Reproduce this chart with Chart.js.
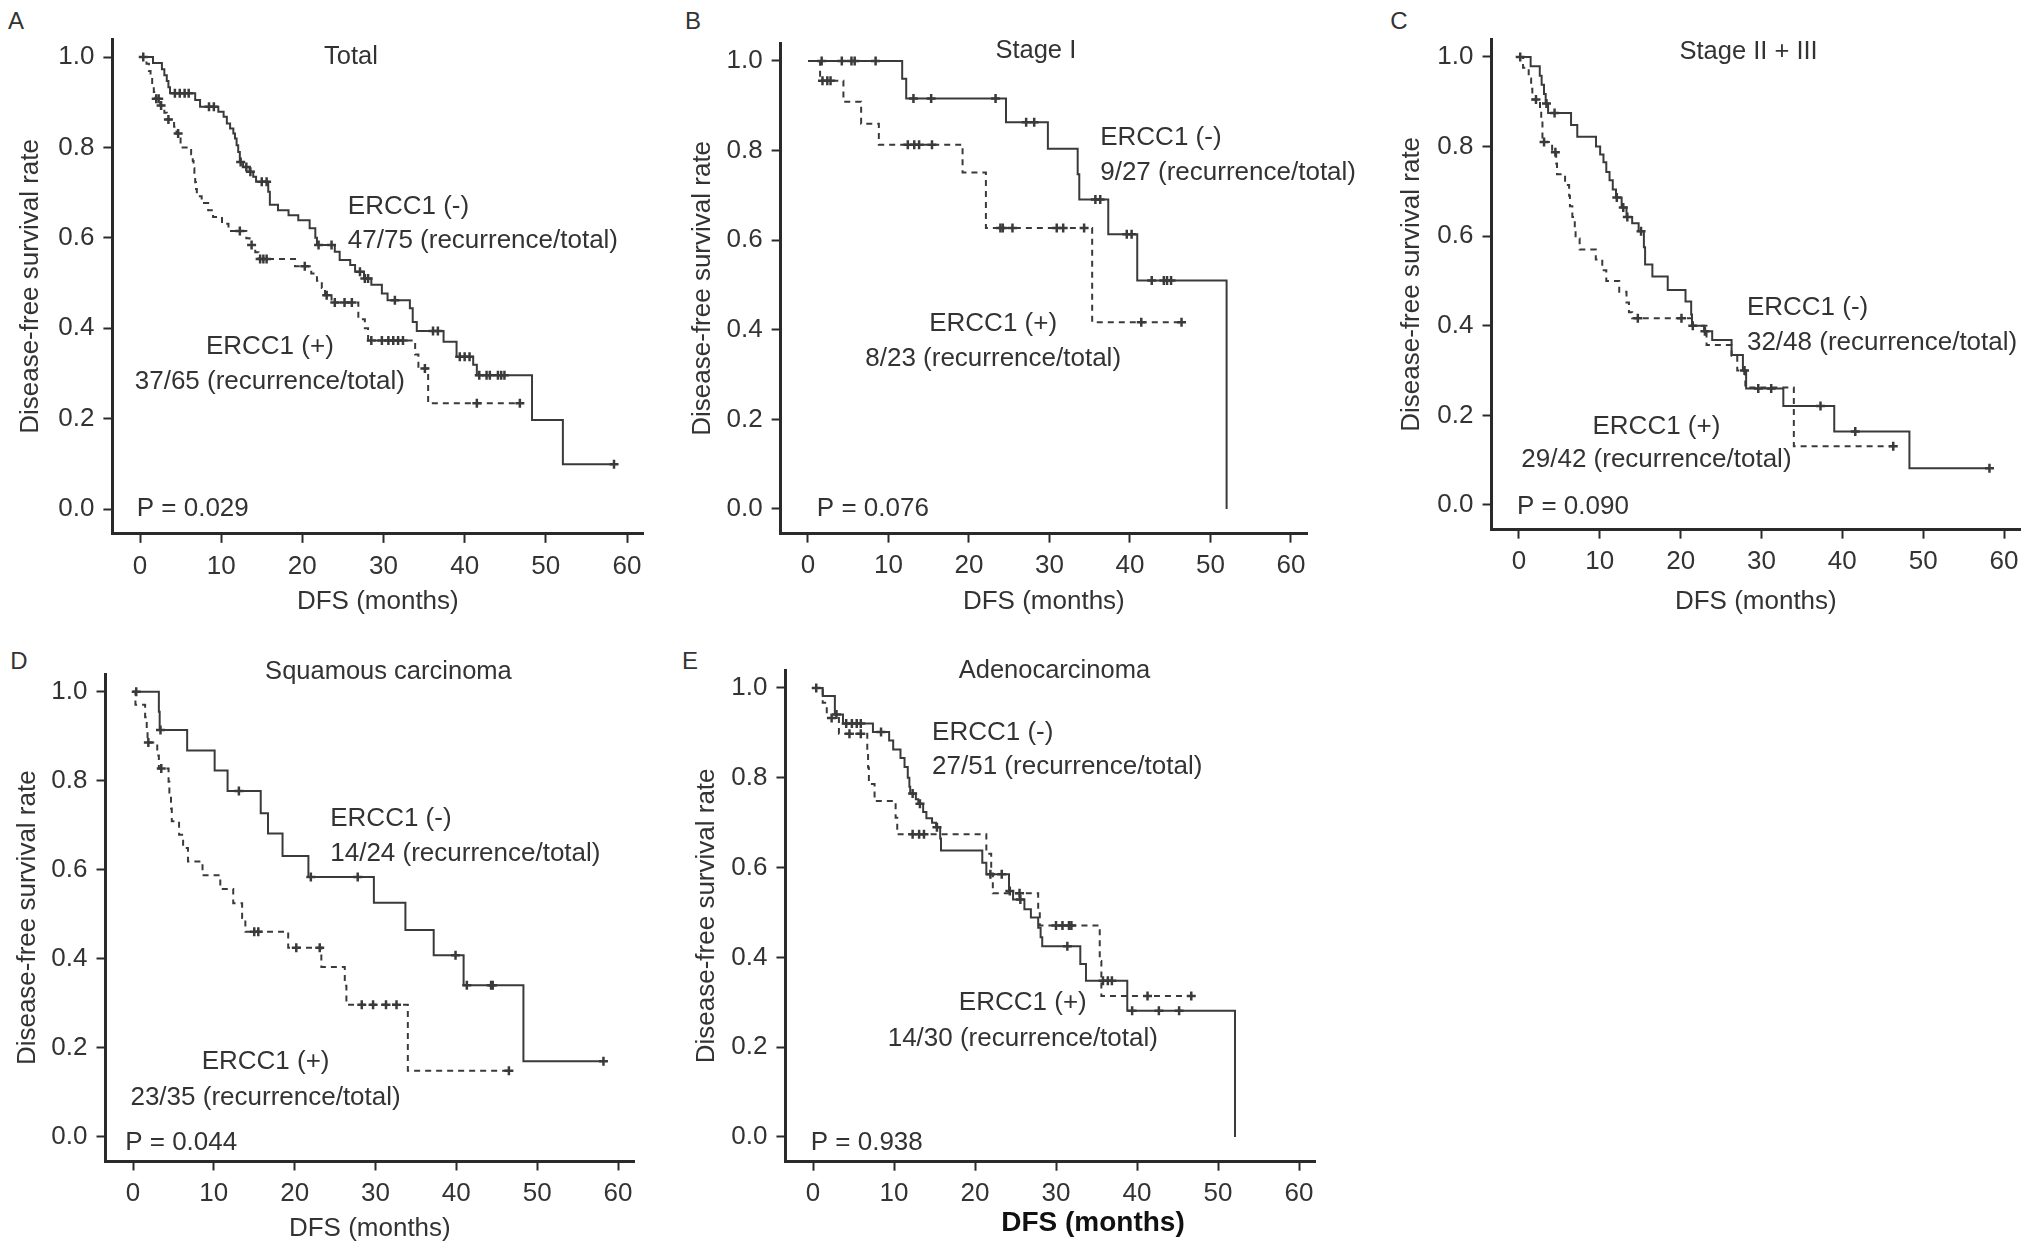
<!DOCTYPE html>
<html><head><meta charset="utf-8">
<script src="https://cdn.jsdelivr.net/npm/chart.js@4.4.1/dist/chart.umd.min.js"></script>
<style>
html,body{margin:0;padding:0;background:#fff;}
body{width:2031px;height:1257px;position:relative;overflow:hidden;font-family:"Liberation Sans",Arial,sans-serif;}
canvas{position:absolute;}
.letter{position:absolute;font-size:24px;color:#333;transform:translate(-50%,-50%);line-height:1;}
</style></head><body>
<script>
// ---------------- DATA ----------------
const X_TICKS = [0, 10, 20, 30, 40, 50, 60];
const Y_TICKS = [0, 0.2, 0.4, 0.6, 0.8, 1.0];
const PANEL_IDS = ['A', 'B', 'C', 'D', 'E'];
const PANEL_TITLES = ['Total', 'Stage I', 'Stage II + III', 'Squamous carcinoma', 'Adenocarcinoma'];
const NEG_COUNTS = ['47/75 (recurrence/total)', '9/27 (recurrence/total)', '32/48 (recurrence/total)', '14/24 (recurrence/total)', '27/51 (recurrence/total)'];
const POS_COUNTS = ['37/65 (recurrence/total)', '8/23 (recurrence/total)', '29/42 (recurrence/total)', '23/35 (recurrence/total)', '14/30 (recurrence/total)'];
const P_VALUES = ['P = 0.029', 'P = 0.076', 'P = 0.090', 'P = 0.044', 'P = 0.938'];

// Panel A - Total
const A_neg_time = [0, 1.6, 2.7, 3.0, 3.3, 3.5, 3.7, 6.8, 7.4, 9.65, 10.3, 10.7, 11.1, 11.5, 11.7, 11.9, 12.1, 12.3, 12.7, 13.5, 13.95, 14.3, 15.8, 16.0, 17.0, 18.3, 19.5, 20.9, 21.6, 21.8, 24.0, 24.6, 25.9, 26.5, 27.6, 28.5, 29.8, 30.5, 33.25, 33.6, 34.1, 37.4, 39.0, 41.05, 41.5, 48.3, 52.1];
const A_neg_surv = [1, 0.987, 0.973, 0.96, 0.947, 0.933, 0.92, 0.905, 0.89, 0.879, 0.868, 0.853, 0.842, 0.831, 0.82, 0.805, 0.79, 0.768, 0.757, 0.746, 0.735, 0.724, 0.702, 0.673, 0.661, 0.65, 0.639, 0.621, 0.60, 0.584, 0.569, 0.551, 0.54, 0.525, 0.51, 0.496, 0.477, 0.462, 0.444, 0.414, 0.394, 0.37, 0.337, 0.319, 0.296, 0.197, 0.099];
const A_neg_cens = [0.4, 4.3, 4.9, 5.5, 6.0, 8.5, 9.1, 12.4, 13.1, 13.6, 15.0, 15.6, 22.0, 23.6, 27.1, 27.7, 28.1, 31.4, 36.1, 36.7, 39.4, 40.0, 40.6, 41.8, 42.7, 43.1, 44.1, 44.5, 44.9, 58.4];
const A_pos_time = [0, 0.8, 1.1, 1.3, 1.5, 1.7, 1.9, 2.5, 3.0, 3.3, 4.2, 4.5, 5.0, 6.3, 6.5, 6.6, 6.7, 6.8, 6.9, 7.0, 7.6, 8.4, 9.0, 10.1, 10.9, 13.1, 13.5, 14.2, 14.6, 19.1, 21.1, 21.8, 22.4, 22.8, 23.6, 26.9, 27.7, 28.1, 33.9, 34.3, 35.5];
const A_pos_surv = [1, 0.985, 0.969, 0.954, 0.938, 0.923, 0.908, 0.893, 0.877, 0.862, 0.846, 0.831, 0.80, 0.785, 0.77, 0.754, 0.738, 0.723, 0.708, 0.692, 0.677, 0.661, 0.646, 0.631, 0.615, 0.599, 0.584, 0.568, 0.553, 0.537, 0.521, 0.505, 0.489, 0.473, 0.457, 0.42, 0.40, 0.373, 0.342, 0.311, 0.234];
const A_pos_cens = [2.0, 2.3, 2.6, 3.5, 4.7, 12.3, 13.75, 14.8, 15.2, 15.6, 20.3, 23.0, 24.0, 25.2, 26.1, 28.5, 29.8, 30.6, 31.2, 31.8, 32.4, 35.1, 41.5, 46.8];

// Panel B - Stage I
const B_neg_time = [0, 11.7, 12.2, 24.6, 29.8, 33.5, 33.7, 37.3, 40.9, 52.0];
const B_neg_surv = [1, 0.96, 0.916, 0.863, 0.804, 0.747, 0.691, 0.613, 0.51, 0.0];
const B_neg_cens = [1.7, 4.2, 5.4, 5.8, 8.4, 13.1, 15.3, 23.3, 27.1, 28.1, 35.7, 36.3, 39.6, 40.2, 42.7, 44.2, 44.6, 45.1];
const B_pos_time = [0, 1.5, 4.4, 6.6, 8.8, 19.2, 22.1, 35.3];
const B_pos_surv = [1, 0.956, 0.909, 0.86, 0.813, 0.751, 0.627, 0.417];
const B_pos_cens = [1.8, 2.4, 2.8, 12.4, 13.2, 13.8, 15.4, 23.9, 24.2, 25.4, 30.9, 31.7, 34.3, 41.4, 46.4];

// Panel C - Stage II + III
const C_neg_time = [0, 1.44, 2.57, 2.8, 3.09, 3.3, 3.6, 6.44, 7.21, 9.53, 10.04, 10.45, 10.8, 11.2, 11.6, 12.0, 12.7, 13.3, 14.0, 14.8, 15.45, 15.6, 16.5, 18.4, 20.6, 21.3, 21.4, 22.9, 23.9, 26.3, 27.7, 28.1, 32.7, 39.0, 48.3];
const C_neg_surv = [1, 0.979, 0.958, 0.938, 0.917, 0.896, 0.875, 0.848, 0.822, 0.80, 0.782, 0.765, 0.743, 0.725, 0.704, 0.686, 0.664, 0.643, 0.629, 0.611, 0.575, 0.537, 0.51, 0.48, 0.454, 0.425, 0.40, 0.388, 0.368, 0.335, 0.30, 0.26, 0.221, 0.164, 0.082];
const C_neg_cens = [0.15, 3.4, 4.4, 12.1, 12.9, 13.4, 15.1, 21.5, 23.0, 27.9, 29.6, 31.2, 37.3, 41.6, 58.2];
const C_pos_time = [0, 0.5, 1.2, 1.5, 1.65, 2.6, 2.75, 2.9, 4.1, 4.6, 4.7, 5.7, 6.2, 6.3, 6.6, 6.9, 7.0, 7.5, 9.5, 10.3, 10.8, 12.4, 13.3, 13.6, 14.0, 21.4, 23.2, 26.3, 27.0, 28.0, 34.0];
const C_pos_surv = [1, 0.976, 0.952, 0.929, 0.905, 0.88, 0.857, 0.81, 0.787, 0.762, 0.738, 0.714, 0.69, 0.667, 0.643, 0.619, 0.595, 0.57, 0.548, 0.524, 0.50, 0.476, 0.452, 0.43, 0.417, 0.40, 0.357, 0.333, 0.30, 0.262, 0.131];
const C_pos_cens = [2.1, 3.1, 4.5, 14.7, 20.1, 46.3];

// Panel D - Squamous carcinoma
const D_neg_time = [0, 3.2, 3.3, 6.7, 10.1, 11.7, 15.8, 16.7, 18.5, 21.7, 29.8, 33.7, 37.2, 40.9, 48.3];
const D_neg_surv = [1, 0.955, 0.914, 0.868, 0.823, 0.777, 0.727, 0.682, 0.631, 0.584, 0.526, 0.465, 0.408, 0.341, 0.17];
const D_neg_cens = [0.4, 3.4, 13.1, 22.0, 27.8, 39.9, 41.3, 44.3, 44.5, 58.2];
const D_pos_time = [0, 0.3, 1.5, 1.7, 1.8, 3.0, 3.2, 4.4, 4.5, 4.7, 4.8, 5.7, 6.2, 6.8, 8.6, 10.8, 12.4, 13.5, 13.9, 19.2, 23.3, 26.2, 26.4, 34.0];
const D_pos_surv = [1, 0.971, 0.943, 0.914, 0.886, 0.857, 0.828, 0.798, 0.768, 0.738, 0.709, 0.679, 0.649, 0.619, 0.588, 0.557, 0.525, 0.492, 0.461, 0.425, 0.382, 0.34, 0.297, 0.149];
const D_pos_cens = [1.9, 3.5, 15.0, 15.5, 20.2, 23.1, 28.3, 29.7, 31.3, 32.6, 46.5];

// Panel E - Adenocarcinoma
const E_neg_time = [0, 1.2, 2.7, 3.7, 7.4, 9.4, 9.9, 10.8, 11.3, 11.7, 11.9, 12.0, 12.7, 13.0, 13.6, 14.0, 14.7, 15.2, 15.7, 15.8, 20.9, 21.4, 24.2, 24.7, 26.1, 26.9, 27.8, 28.1, 28.3, 33.0, 33.7, 38.8, 52.1];
const E_neg_surv = [1, 0.982, 0.941, 0.921, 0.902, 0.883, 0.863, 0.844, 0.824, 0.80, 0.78, 0.765, 0.752, 0.742, 0.724, 0.71, 0.70, 0.69, 0.665, 0.638, 0.611, 0.585, 0.548, 0.529, 0.507, 0.489, 0.466, 0.445, 0.425, 0.385, 0.348, 0.281, 0.0];
const E_neg_cens = [0.4, 2.9, 4.1, 4.8, 5.4, 5.9, 8.4, 12.3, 13.2, 15.3, 21.9, 23.3, 24.3, 25.6, 31.4, 35.8, 36.4, 36.9, 39.4, 42.7, 45.2];
const E_pos_time = [0, 1.2, 1.7, 3.2, 6.7, 6.8, 6.9, 7.6, 10.2, 10.4, 21.4, 22.0, 22.2, 27.8, 28.0, 35.4, 35.6];
const E_pos_surv = [1, 0.967, 0.933, 0.898, 0.86, 0.823, 0.786, 0.748, 0.711, 0.674, 0.631, 0.587, 0.543, 0.507, 0.471, 0.392, 0.314];
const E_pos_cens = [2.3, 4.5, 5.9, 12.3, 13.1, 13.7, 25.5, 30.0, 30.8, 31.6, 31.9, 41.3, 46.7];

const SERIES = {
  A: {neg: [A_neg_time, A_neg_surv, A_neg_cens], pos: [A_pos_time, A_pos_surv, A_pos_cens]},
  B: {neg: [B_neg_time, B_neg_surv, B_neg_cens], pos: [B_pos_time, B_pos_surv, B_pos_cens]},
  C: {neg: [C_neg_time, C_neg_surv, C_neg_cens], pos: [C_pos_time, C_pos_surv, C_pos_cens]},
  D: {neg: [D_neg_time, D_neg_surv, D_neg_cens], pos: [D_pos_time, D_pos_surv, D_pos_cens]},
  E: {neg: [E_neg_time, E_neg_surv, E_neg_cens], pos: [E_pos_time, E_pos_surv, E_pos_cens]},
};

// ---------------- LAYOUT (pixels / positions) ----------------
const X_MIN = -3.4, X_MAX = 62, Y_MIN = -0.055, Y_MAX = 1.04;
const FONT = '"Liberation Sans", Arial, sans-serif';
const GEOM = {
  A: {x0: 140, x60: 627, y1: 57, y0: 509, yTitleX: 31, xTitleY: 601, canvasRight: 676, letter: [16, 21]},
  B: {x0: 808, x60: 1291, y1: 61, y0: 509, yTitleX: 703, xTitleY: 601, canvasRight: 1386, letter: [693, 21]},
  C: {x0: 1519, x60: 2004, y1: 57, y0: 505, yTitleX: 1412, xTitleY: 601, canvasRight: 2031, letter: [1399, 21]},
  D: {x0: 133, x60: 618, y1: 692, y0: 1137, yTitleX: 28, xTitleY: 1228, canvasRight: 676, letter: [19, 661]},
  E: {x0: 813, x60: 1299, y1: 688, y0: 1137, yTitleX: 707, xTitleY: 1223, canvasRight: 1386, letter: [690, 661], boldX: [1093, 1223]},
};
// annotation anchors in data coordinates
const ANN = {
  A: {title: [26.0, 1.0], neg: [25.6, 0.668, 0.593], pos: [16.0, 0.358, 0.281], p: [-0.4, 0.0]},
  B: {title: [28.3, 1.022], neg: [36.3, 0.828, 0.751], pos: [23.0, 0.413, 0.335], p: [1.1, 0.0]},
  C: {title: [28.4, 1.01], neg: [28.2, 0.44, 0.363], pos: [17.0, 0.175, 0.10], p: [-0.26, -0.005]},
  D: {title: [31.6, 1.045], neg: [24.4, 0.715, 0.635], pos: [16.4, 0.168, 0.088], p: [-0.97, -0.014]},
  E: {title: [29.8, 1.038], neg: [14.7, 0.90, 0.824], pos: [25.9, 0.299, 0.219], p: [-0.28, -0.014]},
};

const INK = '#333';
const LINE = '#3a3a3a';
const TICK_SIZE = 26, ANN_SIZE = 26, PTITLE_SIZE = 25.5, AXIS_TITLE_SIZE = 26;

function survAt(times, surv, t) {
  let v = surv[0];
  for (let i = 0; i < times.length; i++) if (times[i] <= t) v = surv[i];
  return v;
}
function curvePoints(times, surv, cens) {
  const pts = times.map((t, i) => ({x: t, y: surv[i]}));
  const last = times[times.length - 1];
  const end = Math.max(last, ...cens);
  if (end > last) pts.push({x: end, y: surv[surv.length - 1]});
  return pts;
}
function censPoints(times, surv, cens) {
  return cens.map(t => ({x: t, y: survAt(times, surv, t)}));
}

PANEL_IDS.forEach((id, idx) => {
  const g = GEOM[id];
  const pxMo = (g.x60 - g.x0) / 60, pxU = g.y0 - g.y1;
  const L = g.x0 + X_MIN * pxMo, R = g.x0 + X_MAX * pxMo;
  const T = g.y0 - Y_MAX * pxU, B = g.y0 - Y_MIN * pxU;
  const lh = AXIS_TITLE_SIZE * 1.2;
  const cLeft = Math.round(g.yTitleX - lh / 2);
  const cBottom = Math.round(g.xTitleY + lh / 2 + 6);
  const padTop = 30;
  const cTop = Math.round(T - padTop);
  const cRight = g.canvasRight;
  const padRight = cRight - R;
  const W = L - cLeft, H = cBottom - B;
  const width = cRight - cLeft, height = cBottom - cTop;

  const letter = document.createElement('div');
  letter.className = 'letter';
  letter.textContent = id;
  letter.style.left = g.letter[0] + 'px';
  letter.style.top = g.letter[1] + 'px';
  document.body.appendChild(letter);

  const cv = document.createElement('canvas');
  cv.width = width; cv.height = height;
  cv.style.left = cLeft + 'px'; cv.style.top = cTop + 'px';
  cv.style.width = width + 'px'; cv.style.height = height + 'px';
  document.body.appendChild(cv);

  const s = SERIES[id], a = ANN[id];
  const items = [
    {text: PANEL_TITLES[idx], x: a.title[0], y: a.title[1], align: 'center', size: PTITLE_SIZE},
    {text: 'ERCC1 (-)', x: a.neg[0], y: a.neg[1], align: 'left', size: ANN_SIZE},
    {text: NEG_COUNTS[idx], x: a.neg[0], y: a.neg[2], align: 'left', size: ANN_SIZE},
    {text: 'ERCC1 (+)', x: a.pos[0], y: a.pos[1], align: 'center', size: ANN_SIZE},
    {text: POS_COUNTS[idx], x: a.pos[0], y: a.pos[2], align: 'center', size: ANN_SIZE},
    {text: P_VALUES[idx], x: a.p[0], y: a.p[1], align: 'left', size: ANN_SIZE},
  ];
  const annPlugin = {
    id: 'ann' + id,
    afterDatasetsDraw(chart) {
      const {ctx, scales} = chart;
      ctx.save();
      ctx.fillStyle = INK;
      ctx.textBaseline = 'middle';
      items.forEach(it => {
        ctx.font = it.size + 'px ' + FONT;
        ctx.textAlign = it.align;
        ctx.fillText(it.text, scales.x.getPixelForValue(it.x), scales.y.getPixelForValue(it.y));
      });
      if (g.boldX) {
        ctx.font = 'bold 28px ' + FONT;
        ctx.fillStyle = '#111';
        ctx.textAlign = 'center';
        ctx.fillText('DFS (months)', g.boldX[0] - cLeft, g.boldX[1] - cTop);
      }
      ctx.restore();
    }
  };

  new Chart(cv, {
    type: 'scatter',
    data: {
      datasets: [
        {data: curvePoints(...s.neg), showLine: true, stepped: 'before', borderColor: LINE, borderWidth: 2, pointRadius: 0, fill: false},
        {data: curvePoints(...s.pos), showLine: true, stepped: 'before', borderColor: LINE, borderWidth: 2, borderDash: [6, 5], pointRadius: 0, fill: false},
        {data: censPoints(...s.neg), showLine: false, pointStyle: 'cross', pointRadius: 4.5, borderColor: LINE, backgroundColor: LINE, pointBorderWidth: 2.5},
        {data: censPoints(...s.pos), showLine: false, pointStyle: 'cross', pointRadius: 4.5, borderColor: LINE, backgroundColor: LINE, pointBorderWidth: 2.5},
      ]
    },
    options: {
      responsive: false, animation: false, events: [],
      devicePixelRatio: 1,
      layout: {padding: {top: padTop, right: padRight, left: 0, bottom: 0}},
      plugins: {legend: {display: false}, tooltip: {enabled: false}, title: {display: false}},
      scales: {
        x: {
          type: 'linear', min: X_MIN, max: X_MAX,
          afterBuildTicks: sc => { sc.ticks = X_TICKS.map(v => ({value: v})); },
          afterFit: sc => { sc.height = H; sc.paddingLeft = 0; sc.paddingRight = 0; },
          ticks: {font: {family: FONT, size: TICK_SIZE}, color: INK, padding: 8, maxRotation: 0, autoSkip: false, callback: v => String(v)},
          grid: {drawOnChartArea: false, drawTicks: true, tickLength: 9, tickWidth: 2, tickColor: '#2a2a2a'},
          border: {display: true, color: '#2a2a2a', width: 3},
          title: {display: !g.boldX, text: 'DFS (months)', color: INK, padding: {top: 0, bottom: 6},
                  font: {family: FONT, size: AXIS_TITLE_SIZE}}
        },
        y: {
          type: 'linear', min: Y_MIN, max: Y_MAX,
          afterBuildTicks: sc => { sc.ticks = Y_TICKS.map(v => ({value: v})); },
          afterFit: sc => { sc.width = W; sc.paddingTop = 0; sc.paddingBottom = 0; },
          ticks: {font: {family: FONT, size: TICK_SIZE}, color: INK, padding: 9, autoSkip: false, callback: v => Number(v).toFixed(1)},
          grid: {drawOnChartArea: false, drawTicks: true, tickLength: 9, tickWidth: 2, tickColor: '#2a2a2a'},
          border: {display: true, color: '#2a2a2a', width: 3},
          title: {display: true, text: 'Disease-free survival rate', color: INK, padding: 0,
                  font: {family: FONT, size: AXIS_TITLE_SIZE}}
        }
      }
    },
    plugins: [annPlugin]
  });
});
</script>
</body></html>
